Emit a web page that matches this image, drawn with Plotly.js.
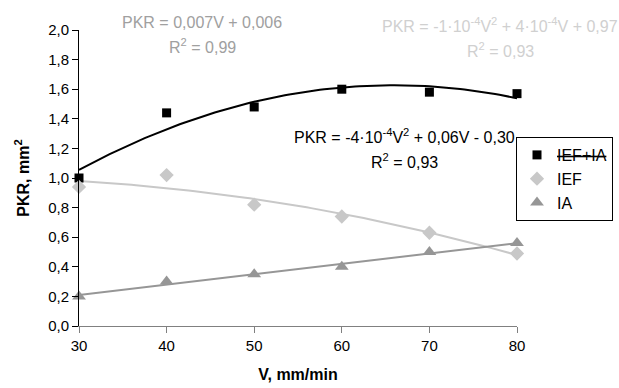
<!DOCTYPE html>
<html>
<head>
<meta charset="utf-8">
<script src="https://cdn.plot.ly/plotly-3.0.1.min.js"></script>
<style>html,body{margin:0;padding:0;background:#fff;}#chart{width:619px;height:388px;}</style>
</head>
<body>
<div id="chart"></div>
<script>
// ---- data ----
const speedV = [30, 40, 50, 60, 70, 80];          // V, mm/min
const pkrIEFIA = [1.00, 1.44, 1.48, 1.60, 1.58, 1.57];
const pkrIEF   = [0.94, 1.02, 0.82, 0.74, 0.63, 0.49];
const pkrIA    = [0.20, 0.30, 0.35, 0.40, 0.50, 0.56];
const seriesNames = ['<s>IEF+IA</s>', 'IEF', 'IA'];
const yTicks = [0, 0.2, 0.4, 0.6, 0.8, 1.0, 1.2, 1.4, 1.6, 1.8, 2.0];
const xTicks = [30, 40, 50, 60, 70, 80];
const eqIA  = ['PKR = 0,007V + 0,006', 'R<sup>2</sup> = 0,99'];
const eqIEF = ['PKR = -1·10<sup>-4</sup>V<sup>2</sup> + 4·10<sup>-4</sup>V + 0,97', 'R<sup>2</sup> = 0,93'];
const eqSum = ['PKR = -4·10<sup>-4</sup>V<sup>2</sup> + 0,06V - 0,30', 'R<sup>2</sup> = 0,93'];

// least-squares polynomial fit (trendline as in the spreadsheet)
function polyfit(xs, ys, deg) {
  const n = deg + 1;
  const A = [], b = [];
  for (let i = 0; i < n; i++) {
    A.push(new Array(n).fill(0)); b.push(0);
  }
  for (let k = 0; k < xs.length; k++) {
    for (let i = 0; i < n; i++) {
      for (let j = 0; j < n; j++) A[i][j] += Math.pow(xs[k], i + j);
      b[i] += ys[k] * Math.pow(xs[k], i);
    }
  }
  for (let i = 0; i < n; i++) {
    let p = i;
    for (let r = i + 1; r < n; r++) if (Math.abs(A[r][i]) > Math.abs(A[p][i])) p = r;
    [A[i], A[p]] = [A[p], A[i]]; [b[i], b[p]] = [b[p], b[i]];
    for (let r = i + 1; r < n; r++) {
      const f = A[r][i] / A[i][i];
      for (let c = i; c < n; c++) A[r][c] -= f * A[i][c];
      b[r] -= f * b[i];
    }
  }
  const coef = new Array(n).fill(0);
  for (let i = n - 1; i >= 0; i--) {
    let s = b[i];
    for (let c = i + 1; c < n; c++) s -= A[i][c] * coef[c];
    coef[i] = s / A[i][i];
  }
  return coef;
}
function trend(xs, ys, deg) {
  const c = polyfit(xs, ys, deg);
  const tx = [], ty = [];
  const x0 = xs[0], x1 = xs[xs.length - 1];
  for (let i = 0; i <= 100; i++) {
    const x = x0 + (x1 - x0) * i / 100;
    let y = 0;
    for (let k = 0; k < c.length; k++) y += c[k] * Math.pow(x, k);
    tx.push(x); ty.push(y);
  }
  return {x: tx, y: ty};
}

const tSum = trend(speedV, pkrIEFIA, 2);
const tIEF = trend(speedV, pkrIEF, 2);
const tIA  = trend(speedV, pkrIA, 1);

const traces = [
  {x: tIEF.x, y: tIEF.y, mode: 'lines', line: {color: '#c8c8c8', width: 2}, showlegend: false, hoverinfo: 'skip'},
  {x: tIA.x, y: tIA.y, mode: 'lines', line: {color: '#969696', width: 2}, showlegend: false, hoverinfo: 'skip'},
  {x: tSum.x, y: tSum.y, mode: 'lines', line: {color: '#000000', width: 2}, showlegend: false, hoverinfo: 'skip'},
  {x: speedV, y: pkrIEFIA, name: seriesNames[0], mode: 'markers', marker: {symbol: 'square', size: 9, color: '#000000'}, cliponaxis: false},
  {x: speedV, y: pkrIEF, name: seriesNames[1], mode: 'markers', marker: {symbol: 'diamond', size: 11, color: '#c8c8c8'}, cliponaxis: false},
  {x: speedV, y: pkrIA, name: seriesNames[2], mode: 'markers', marker: {symbol: 'triangle-up', size: 12, color: '#969696'}, cliponaxis: false}
];

const L = 79, R = 517, T = 30, B = 326;
const px = v => (v - L) / (R - L);
const py = v => (B - v) / (B - T);
function ann(text, x, y, color) {
  return {text: text, xref: 'paper', yref: 'paper', x: px(x), y: py(y), xanchor: 'center', yanchor: 'middle',
          showarrow: false, font: {family: 'Liberation Sans, Arial, sans-serif', size: 16, color: color}};
}

const layout = {
  width: 619, height: 388,
  margin: {l: L, r: 619 - R, t: T, b: 388 - B, autoexpand: false},
  paper_bgcolor: '#ffffff', plot_bgcolor: '#ffffff',
  separators: ', ',
  font: {family: 'Liberation Sans, Arial, sans-serif', color: '#000000', size: 15},
  xaxis: {
    range: [30, 80], tickvals: xTicks, showgrid: false, zeroline: false,
    showline: true, linecolor: '#808080', linewidth: 1,
    ticks: 'outside', ticklen: 6, tickcolor: '#808080',
    tickfont: {size: 15},
    title: {text: '<b>V, mm/min</b>', font: {size: 16}, standoff: 15}
  },
  yaxis: {
    range: [0, 2], tickvals: yTicks, tickformat: '.1f', showgrid: false, zeroline: false,
    showline: true, linecolor: '#000000', linewidth: 1,
    ticks: 'outside', ticklen: 6, tickcolor: '#000000',
    tickfont: {size: 15},
    title: {text: '<b>PKR, mm<sup>2</sup></b>', font: {size: 16}, standoff: 14}
  },
  legend: {
    x: px(613), y: py(137), xanchor: 'right', yanchor: 'top',
    bgcolor: '#ffffff', bordercolor: '#000000', borderwidth: 1,
    font: {size: 16}, tracegroupgap: 0
  },
  annotations: [
    ann(eqIA[0], 202, 22, '#a0a0a0'),
    ann(eqIA[1], 202, 46, '#a0a0a0'),
    ann(eqIEF[0], 500, 25, '#d0d0d0'),
    ann(eqIEF[1], 500, 50, '#d0d0d0'),
    ann(eqSum[0], 404, 136, '#000000'),
    ann(eqSum[1], 404, 161, '#000000')
  ],
  showlegend: true
};

Plotly.newPlot('chart', traces, layout, {displayModeBar: false, staticPlot: true});
</script>
</body>
</html>
